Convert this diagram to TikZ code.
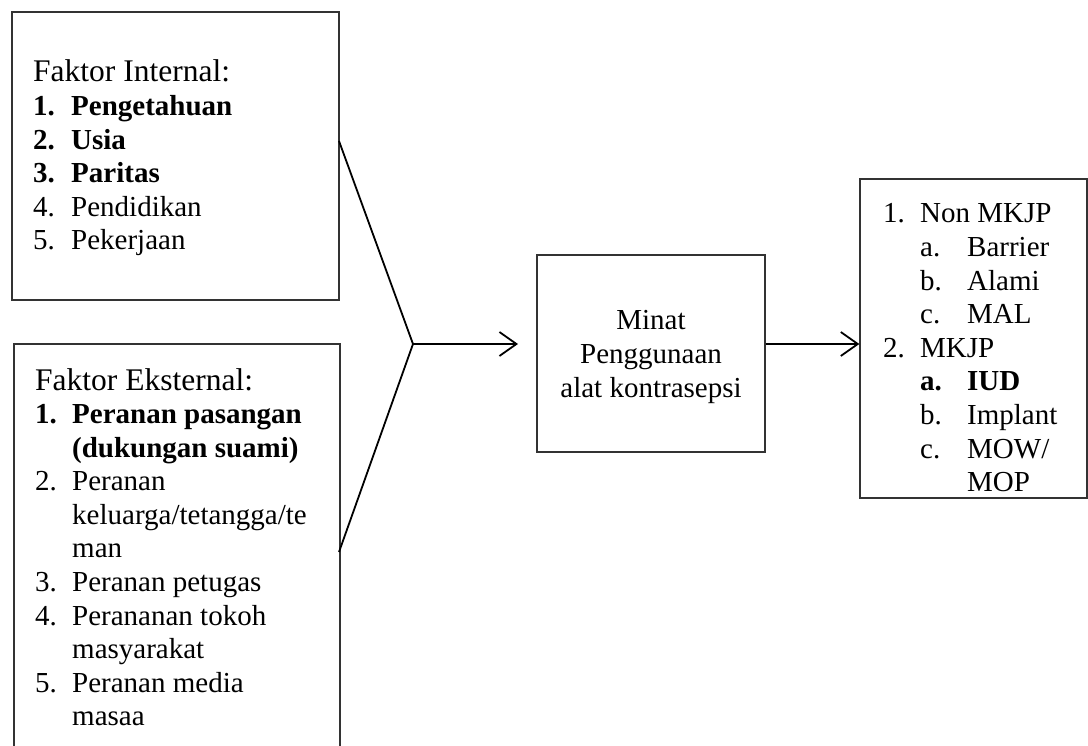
\documentclass[tikz,border=0pt]{standalone}
\usepackage{fontspec}
\setmainfont{Liberation Serif}
\usetikzlibrary{arrows.meta}
\newcommand{\headsize}{\fontsize{31.5}{33.6}\selectfont}
\begin{document}
\begin{tikzpicture}[x=1pt,y=-1pt,
  boxnode/.style={draw=black!80, line width=1.3pt, rectangle, inner sep=0pt},
  txt/.style={anchor=base west, inner sep=0pt, font=\fontsize{29}{33.6}\selectfont},
  ctxt/.style={anchor=base, inner sep=0pt, font=\fontsize{29}{33.6}\selectfont},
  conn/.style={line width=1.8pt, black},
  arr/.style={conn, -{Straight Barb[length=17pt,width=24pt]}}]
\clip (0,0) rectangle (1088,746);
% boxes
\node[boxnode, minimum width=327pt, minimum height=288pt] (box1) at (175.5,156) {};
\node[boxnode, minimum width=326pt, minimum height=436pt] (box2) at (177,562) {};
\node[boxnode, minimum width=228pt, minimum height=197pt] (box3) at (651,353.5) {};
\node[boxnode, minimum width=227pt, minimum height=319pt] (box4) at (973.5,338.5) {};
% texts
\node[txt] (t1) at (33,82) {\begin{tabular}[t]{@{}l@{}}
\headsize Faktor Internal:\\
\bfseries\makebox[38pt][l]{1.}Pengetahuan\\
\bfseries\makebox[38pt][l]{2.}Usia\\
\bfseries\makebox[38pt][l]{3.}Paritas\\
\makebox[38pt][l]{4.}Pendidikan\\
\makebox[38pt][l]{5.}Pekerjaan
\end{tabular}};
\node[txt] (t2) at (35,390) {\begin{tabular}[t]{@{}l@{}}
\headsize Faktor Eksternal:\\
\bfseries\makebox[37pt][l]{1.}Peranan pasangan\\
\bfseries\hspace*{37pt}(dukungan suami)\\
\makebox[37pt][l]{2.}Peranan\\
\hspace*{37pt}keluarga/tetangga/te\\
\hspace*{37pt}man\\
\makebox[37pt][l]{3.}Peranan petugas\\
\makebox[37pt][l]{4.}Perananan tokoh\\
\hspace*{37pt}masyarakat\\
\makebox[37pt][l]{5.}Peranan media\\
\hspace*{37pt}masaa
\end{tabular}};
\node[ctxt] (t3) at (651,330) {\begin{tabular}[t]{@{}c@{}}
Minat\\
Penggunaan\\
alat kontrasepsi
\end{tabular}};
\node[txt] (t4) at (883,223) {\begin{tabular}[t]{@{}l@{}}
\makebox[37pt][l]{1.}Non MKJP\\
\hspace*{37pt}\makebox[47pt][l]{a.}Barrier\\
\hspace*{37pt}\makebox[47pt][l]{b.}Alami\\
\hspace*{37pt}\makebox[47pt][l]{c.}MAL\\
\makebox[37pt][l]{2.}MKJP\\
\hspace*{37pt}\bfseries\makebox[47pt][l]{a.}IUD\\
\hspace*{37pt}\makebox[47pt][l]{b.}Implant\\
\hspace*{37pt}\makebox[47pt][l]{c.}MOW/\\
\hspace*{84pt}MOP
\end{tabular}};
% connectors
\coordinate (u) at (339,141);
\coordinate (l) at (339,552);
\coordinate (j) at (413,344);
\coordinate (tip) at (518,344);
\draw[conn, line join=miter] (u) -- (j) -- (l);
\draw[arr] (j) -- (tip);
\draw[arr] (box3.east |- j) -- (box4.west |- j);
\end{tikzpicture}
\end{document}
